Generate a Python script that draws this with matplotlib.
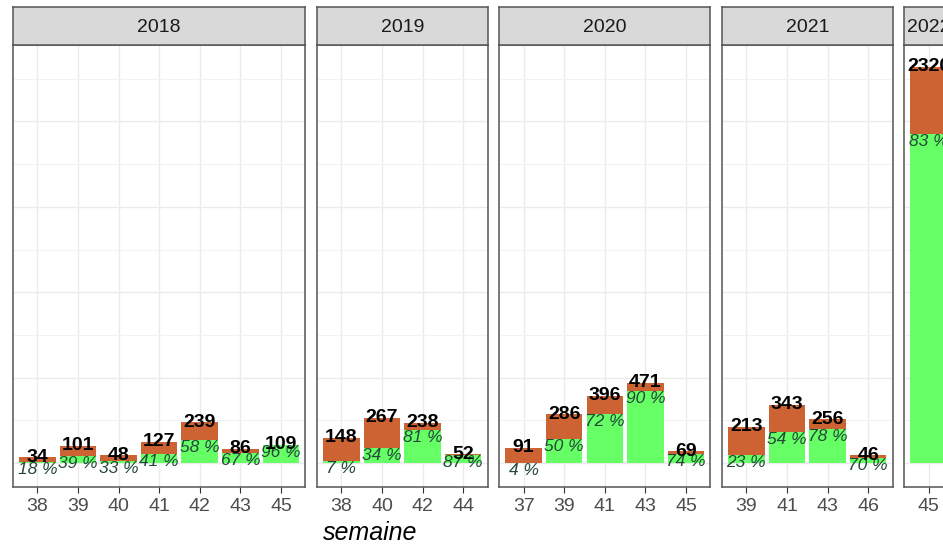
import matplotlib
matplotlib.use("Agg")
import matplotlib.pyplot as plt
import numpy as np

plt.rcParams['font.family'] = ['Liberation Sans', 'DejaVu Sans']

# donnees
annees = ['2018', '2019', '2020', '2021', '2022']
semaines_2018 = ['38', '39', '40', '41', '42', '43', '45']
total_2018 = [34, 101, 48, 127, 239, 86, 109]
pct_2018 = [18, 39, 33, 41, 58, 67, 96]
semaines_2019 = ['38', '40', '42', '44']
total_2019 = [148, 267, 238, 52]
pct_2019 = [7, 34, 81, 87]
semaines_2020 = ['37', '39', '41', '43', '45']
total_2020 = [91, 286, 396, 471, 69]
pct_2020 = [4, 50, 72, 90, 74]
semaines_2021 = ['39', '41', '43', '46']
total_2021 = [213, 343, 256, 46]
pct_2021 = [23, 54, 78, 70]
semaines_2022 = ['45']
total_2022 = [2320]
pct_2022 = [83]

facettes = [
    (annees[0], semaines_2018, total_2018, pct_2018),
    (annees[1], semaines_2019, total_2019, pct_2019),
    (annees[2], semaines_2020, total_2020, pct_2020),
    (annees[3], semaines_2021, total_2021, pct_2021),
    (annees[4], semaines_2022, total_2022, pct_2022),
]

orange = '#CD6232'
vert = '#66FF66'
col_pct = '#24473A'
bord = '#555555'

W, H = 943, 546
fig = plt.figure(figsize=(W / 100, H / 100), dpi=100)

ymax = max(max(f[2]) for f in facettes)
ylo, yhi = -0.06 * ymax, 1.055 * ymax

unit = 40.6
gap = 11.7
left = 13
top_panel, bot_panel = 45, 487
top_strip = 7

for nom, sem, tot, pct in facettes:
    n = len(sem)
    wpx = (n + 0.2) * unit
    ax = fig.add_axes([left / W, 1 - bot_panel / H, wpx / W, (bot_panel - top_panel) / H])
    x = np.arange(n)
    tot = np.array(tot, dtype=float)
    vert_h = tot * np.array(pct) / 100.0
    ax.bar(x, tot, width=0.9, color=orange, zorder=2)
    ax.bar(x, vert_h, width=0.9, color=vert, zorder=3)
    for xi, t, g, p in zip(x, tot, vert_h, pct):
        ax.text(xi, t, '%d' % t, ha='center', va='center', fontsize=14,
                fontweight='bold', color='black', zorder=5)
        ax.text(xi, g, '%d %%' % p, ha='center', va='top', fontsize=12.5,
                fontstyle='italic', color=col_pct, zorder=4)
    ax.set_xlim(-0.6, n - 0.4)
    ax.set_ylim(ylo, yhi)
    ax.set_xticks(x)
    ax.set_xticklabels(sem)
    ax.set_yticks(np.arange(0, 2500, 500))
    ax.set_yticks(np.arange(250, 2500, 500), minor=True)
    ax.set_yticklabels([])
    ax.tick_params(axis='y', which='both', length=0)
    ax.tick_params(axis='x', length=4, width=0.8, color='#333333',
                   labelsize=14, labelcolor='#4D4D4D', pad=4)
    ax.grid(True, which='major', color='#EBEBEB', lw=1.0, zorder=0)
    ax.grid(True, which='minor', axis='y', color='#F2F2F2', lw=0.8, zorder=0)
    ax.set_axisbelow(True)
    for s in ax.spines.values():
        s.set_color(bord)
        s.set_linewidth(1.1)

    st = fig.add_axes([left / W, 1 - top_panel / H, wpx / W, (top_panel - top_strip) / H])
    st.set_facecolor('#D9D9D9')
    st.set_xticks([])
    st.set_yticks([])
    for s in st.spines.values():
        s.set_color(bord)
        s.set_linewidth(1.1)
    st.text(0.5, 0.47, nom, ha='center', va='center', fontsize=14,
            color='#1A1A1A', transform=st.transAxes)

    left += wpx + gap

fig.text(370 / W, 1 - 533 / H, 'semaine', ha='center', va='center',
         fontsize=18, fontstyle='italic', color='black')

fig.savefig('out.png', dpi=100)
